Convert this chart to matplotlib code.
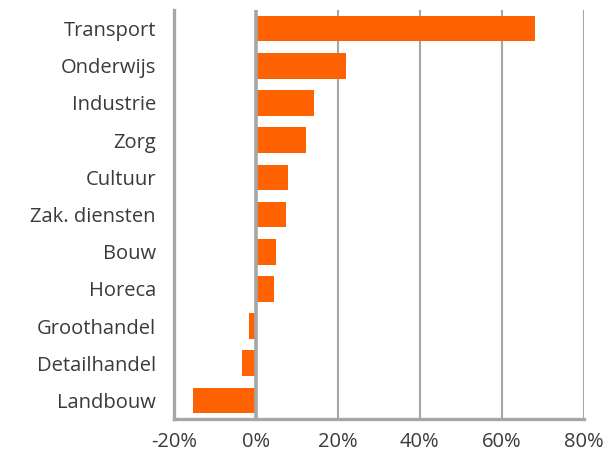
import matplotlib.pyplot as plt
from matplotlib.ticker import FuncFormatter

# Sectors, top to bottom as shown
sectors = ['Transport', 'Onderwijs', 'Industrie', 'Zorg', 'Cultuur', 'Zak. diensten',
           'Bouw', 'Horeca', 'Groothandel', 'Detailhandel', 'Landbouw']
values = [68.2, 21.9, 14.2, 12.2, 7.9, 7.4, 4.9, 4.4, -1.8, -3.3, -15.4]
x_ticks = [-20, 0, 20, 40, 60, 80]

orange = '#FF6200'
grey = '#A6A6A6'

plt.rcParams['font.family'] = ['Open Sans', 'DejaVu Sans']

fig = plt.figure(figsize=(6.12, 4.59), dpi=100)
ax = fig.add_axes([0.2843, 0.0871, 0.6697, 0.891])

pos = list(range(len(sectors)))[::-1]
ax.barh(pos, values, height=0.69, color=orange, zorder=3)

ax.set_xlim(-20, 80)
ax.set_ylim(-0.5, 10.5)
ax.set_xticks(x_ticks)
ax.xaxis.set_major_formatter(FuncFormatter(lambda v, p: f'{v:.0f}%'))
ax.set_yticks(pos)
ax.set_yticklabels(sectors)

for t in x_ticks[1:]:
    ax.axvline(t, color=grey, lw=1.5 if t != 0 else 2.6, zorder=2 if t != 0 else 4)

for side in ['top', 'right']:
    ax.spines[side].set_visible(False)
for side in ['left', 'bottom']:
    ax.spines[side].set_color(grey)
    ax.spines[side].set_linewidth(2.4)

ax.tick_params(axis='both', length=0, labelsize=14.5, colors='#3a3a3a')
ax.tick_params(axis='x', pad=9)
ax.tick_params(axis='y', pad=13)

fig.savefig('out.png', dpi=100)
